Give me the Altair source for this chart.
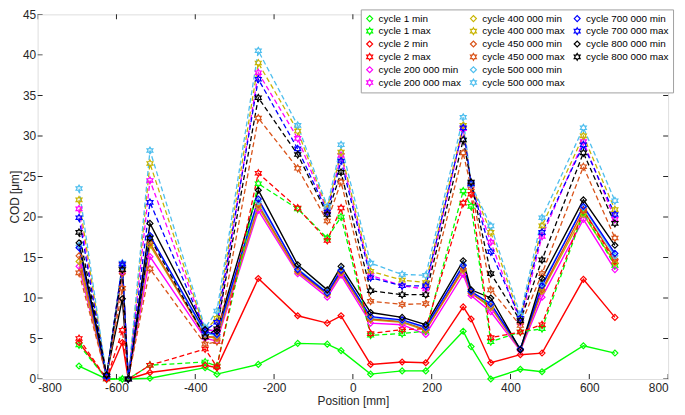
import altair as alt
import pandas as pd

positions = [-695, -625, -585, -570, -515, -375, -345, -240, -140, -65, -30,
             45, 125, 185, 280, 300, 350, 425, 480, 585, 665]

c1_min = [1.6, 0, 0, 0, 0.1, 1.4, 0.6, 1.8, 4.4, 4.3, 3.5, 0.6, 1.0, 1.0, 5.9, 4.0, 0.0, 1.2, 0.9, 4.1, 3.2]
c1_max = [4.2, 0, 0, 0, 1.7, 2.1, 1.6, 24.1, 21.0, 17.4, 20.0, 5.4, 5.6, 5.9, 23.2, 21.3, 4.6, 5.8, 6.2, 20.5, 14.0]
c2_min = [4.5, 0, 4.5, 0, 0.8, 1.7, 1.4, 12.4, 7.8, 6.9, 7.8, 1.8, 2.1, 2.0, 8.9, 7.4, 2.0, 3.0, 3.2, 12.3, 7.6]
c2_max = [5.0, 0, 6.0, 0, 1.7, 3.7, 1.5, 25.4, 21.1, 17.1, 21.1, 5.6, 6.1, 6.2, 21.7, 22.8, 5.1, 5.8, 6.7, 20.8, 14.5]
k200_min = [13.9, 0.3, 13.2, 0, 15.1, 5.0, 4.7, 20.8, 13.0, 10.1, 12.8, 6.9, 6.7, 5.5, 12.9, 10.3, 8.3, 3.5, 10.1, 19.7, 13.5]
k200_max = [21.0, 0.3, 14.0, 0, 24.5, 6.0, 6.0, 37.8, 29.7, 20.8, 27.6, 12.8, 11.5, 11.1, 30.9, 23.9, 16.9, 7.0, 17.6, 29.3, 19.7]
k400_min = [14.5, 0.3, 13.5, 0, 16.5, 5.3, 5.0, 21.2, 13.2, 10.4, 13.1, 7.3, 7.0, 6.0, 13.4, 10.6, 8.8, 3.6, 10.8, 20.3, 14.3]
k400_max = [22.1, 0.3, 14.1, 0, 26.6, 6.0, 7.5, 39.0, 30.6, 21.0, 28.0, 13.3, 12.2, 11.9, 31.3, 24.0, 18.1, 7.4, 18.9, 30.0, 20.9]
k450_min = [15.2, 0.3, 13.0, 0, 16.8, 5.2, 5.2, 21.5, 13.3, 10.5, 13.2, 7.4, 7.1, 6.1, 13.6, 10.6, 9.0, 3.6, 11.0, 20.8, 14.8]
k450_max = [13.1, 0.3, 11.2, 0, 13.6, 4.3, 4.6, 32.2, 26.0, 19.5, 24.3, 9.6, 9.2, 9.3, 27.9, 23.6, 11.0, 6.6, 13.0, 26.2, 17.4]
k500_min = [16.5, 0.3, 13.8, 0, 17.6, 5.6, 5.4, 21.9, 13.6, 10.7, 13.5, 7.6, 7.2, 6.3, 14.1, 10.8, 9.2, 3.7, 11.7, 21.2, 15.2]
k500_max = [23.5, 0.3, 14.3, 0, 28.2, 6.3, 8.4, 40.5, 31.3, 21.3, 28.9, 14.3, 12.9, 12.8, 32.3, 24.0, 18.9, 7.9, 19.9, 31.0, 22.0]
k700_min = [16.2, 0.3, 14.0, 0, 17.7, 5.8, 5.5, 22.2, 13.5, 10.6, 13.4, 7.7, 7.3, 6.4, 14.0, 10.8, 9.3, 3.7, 11.5, 21.3, 15.5]
k700_max = [19.9, 0.3, 14.2, 0, 21.8, 6.0, 7.0, 37.0, 28.4, 20.6, 26.9, 12.5, 11.5, 11.5, 31.0, 24.1, 15.7, 7.5, 18.1, 28.9, 20.3]
k800_min = [16.8, 0.5, 9.9, 0, 19.2, 6.1, 5.9, 23.3, 14.1, 11.0, 13.9, 8.2, 7.6, 6.7, 14.6, 11.0, 10.0, 3.6, 12.4, 22.1, 16.5]
k800_max = [18.1, 0.5, 13.5, 0, 17.4, 5.2, 6.2, 34.7, 27.7, 20.3, 25.5, 10.9, 10.4, 10.4, 29.5, 24.3, 13.0, 7.2, 14.7, 27.9, 19.2]

series_names = ["cycle 1 min", "cycle 1 max", "cycle 2 min", "cycle 2 max",
                "cycle 200 000 min", "cycle 200 000 max", "cycle 400 000 min", "cycle 400 000 max",
                "cycle 450 000 min", "cycle 450 000 max", "cycle 500 000 min", "cycle 500 000 max",
                "cycle 700 000 min", "cycle 700 000 max", "cycle 800 000 min", "cycle 800 000 max"]
series_values = [c1_min, c1_max, c2_min, c2_max, k200_min, k200_max, k400_min, k400_max,
                 k450_min, k450_max, k500_min, k500_max, k700_min, k700_max, k800_min, k800_max]
cycle_colors = ["#00ff00", "#00ff00", "#ff0000", "#ff0000", "#ff00ff", "#ff00ff",
                "#c8b400", "#c8b400", "#d95319", "#d95319", "#4dbeee", "#4dbeee",
                "#0000ff", "#0000ff", "#000000", "#000000"]

x_ticks = [-800, -600, -400, -200, 0, 200, 400, 600, 800]
y_ticks = [0, 5, 10, 15, 20, 25, 30, 35, 40, 45]

HEX = "M0,-1.15L0.33,-0.575L1,-0.575L0.66,0L1,0.575L0.33,0.575L0,1.15L-0.33,0.575L-1,0.575L-0.66,0L-1,-0.575L-0.33,-0.575Z"

rows = []
for i, (name, vals) in enumerate(zip(series_names, series_values)):
    kind = "max" if name.endswith("max") else "min"
    for p, v in zip(positions, vals):
        rows.append({"series": name, "kind": kind, "pos": p, "cod": v, "idx": i})
df = pd.DataFrame(rows)

# two invisible fillers complete a 6 x 3 legend grid
legend_domain = series_names + [" ", "  "]
color_range = cycle_colors + ["transparent", "transparent"]
shape_range = ["diamond" if s.endswith("min") else HEX for s in series_names] + ["circle", "circle"]

xs = alt.Scale(domain=[-800, 800], nice=False)
ys = alt.Scale(domain=[0, 45], nice=False)

legend = alt.Legend(title=None, orient="top-right", columns=3, offset=-5,
                    fillColor="white", strokeColor="#a0a0a0", padding=4,
                    labelFontSize=10, labelFont="Liberation Sans", labelColor="#000000",
                    symbolSize=36, symbolStrokeWidth=1.2, rowPadding=1, columnPadding=6,
                    labelLimit=200, labelOffset=4)

color_enc = alt.Color("series:N", scale=alt.Scale(domain=legend_domain, range=color_range), legend=legend)
shape_enc = alt.Shape("series:N", scale=alt.Scale(domain=legend_domain, range=shape_range), legend=legend)

x_axis = alt.Axis(values=x_ticks, ticks=False, domain=False, grid=False, labelFontSize=12,
                  labelPadding=4, title="Position [mm]", titleFontSize=12, titleFontWeight="normal",
                  titlePadding=2, labelColor="#262626", titleColor="#262626",
                  labelExpr="datum.value + ''")
y_axis = alt.Axis(values=y_ticks, ticks=False, domain=False, grid=False, labelFontSize=12,
                  labelPadding=2, title="COD [μm]", titleFontSize=12, titleFontWeight="normal",
                  titlePadding=1, labelColor="#262626", titleColor="#262626")

base = alt.Chart(df)
solid_lines = base.transform_filter(alt.datum.kind == "min").mark_line(strokeWidth=1.4).encode(
    x=alt.X("pos:Q", scale=xs, axis=x_axis),
    y=alt.Y("cod:Q", scale=ys, axis=y_axis),
    color=color_enc,
    detail="series:N",
    order="pos:Q",
)
dashed_lines = base.transform_filter(alt.datum.kind == "max").mark_line(strokeWidth=1.3, strokeDash=[5, 3]).encode(
    x=alt.X("pos:Q", scale=xs),
    y=alt.Y("cod:Q", scale=ys),
    color=color_enc,
    detail="series:N",
    order="pos:Q",
)
points = base.mark_point(filled=False, size=36, strokeWidth=1.2, opacity=1).encode(
    x=alt.X("pos:Q", scale=xs),
    y=alt.Y("cod:Q", scale=ys),
    color=color_enc,
    shape=shape_enc,
)

xt = pd.DataFrame({"t": x_ticks})
yt = pd.DataFrame({"t": y_ticks})
tick_style = dict(color="#262626", thickness=1, size=10, clip=True, opacity=1)
bottom_t = alt.Chart(xt).mark_tick(orient="vertical", **tick_style).encode(x=alt.X("t:Q", scale=xs), y=alt.datum(0))
top_t = alt.Chart(xt).mark_tick(orient="vertical", **tick_style).encode(x=alt.X("t:Q", scale=xs), y=alt.datum(45))
left_t = alt.Chart(yt).mark_tick(orient="horizontal", **tick_style).encode(y=alt.Y("t:Q", scale=ys), x=alt.datum(-800))
right_t = alt.Chart(yt).mark_tick(orient="horizontal", **tick_style).encode(y=alt.Y("t:Q", scale=ys), x=alt.datum(800))

chart = alt.layer(solid_lines, dashed_lines, points, bottom_t, top_t, left_t, right_t).properties(
    width=638, height=369,
    autosize=alt.AutoSizeParams(type="none"),
    padding={"left": 30, "top": 4, "right": 9, "bottom": 34},
).configure_view(stroke="#262626", strokeWidth=1).configure(
    font="Liberation Sans", background="white"
)

chart.save("out.html", embed_options={"renderer": "svg", "actions": False})
